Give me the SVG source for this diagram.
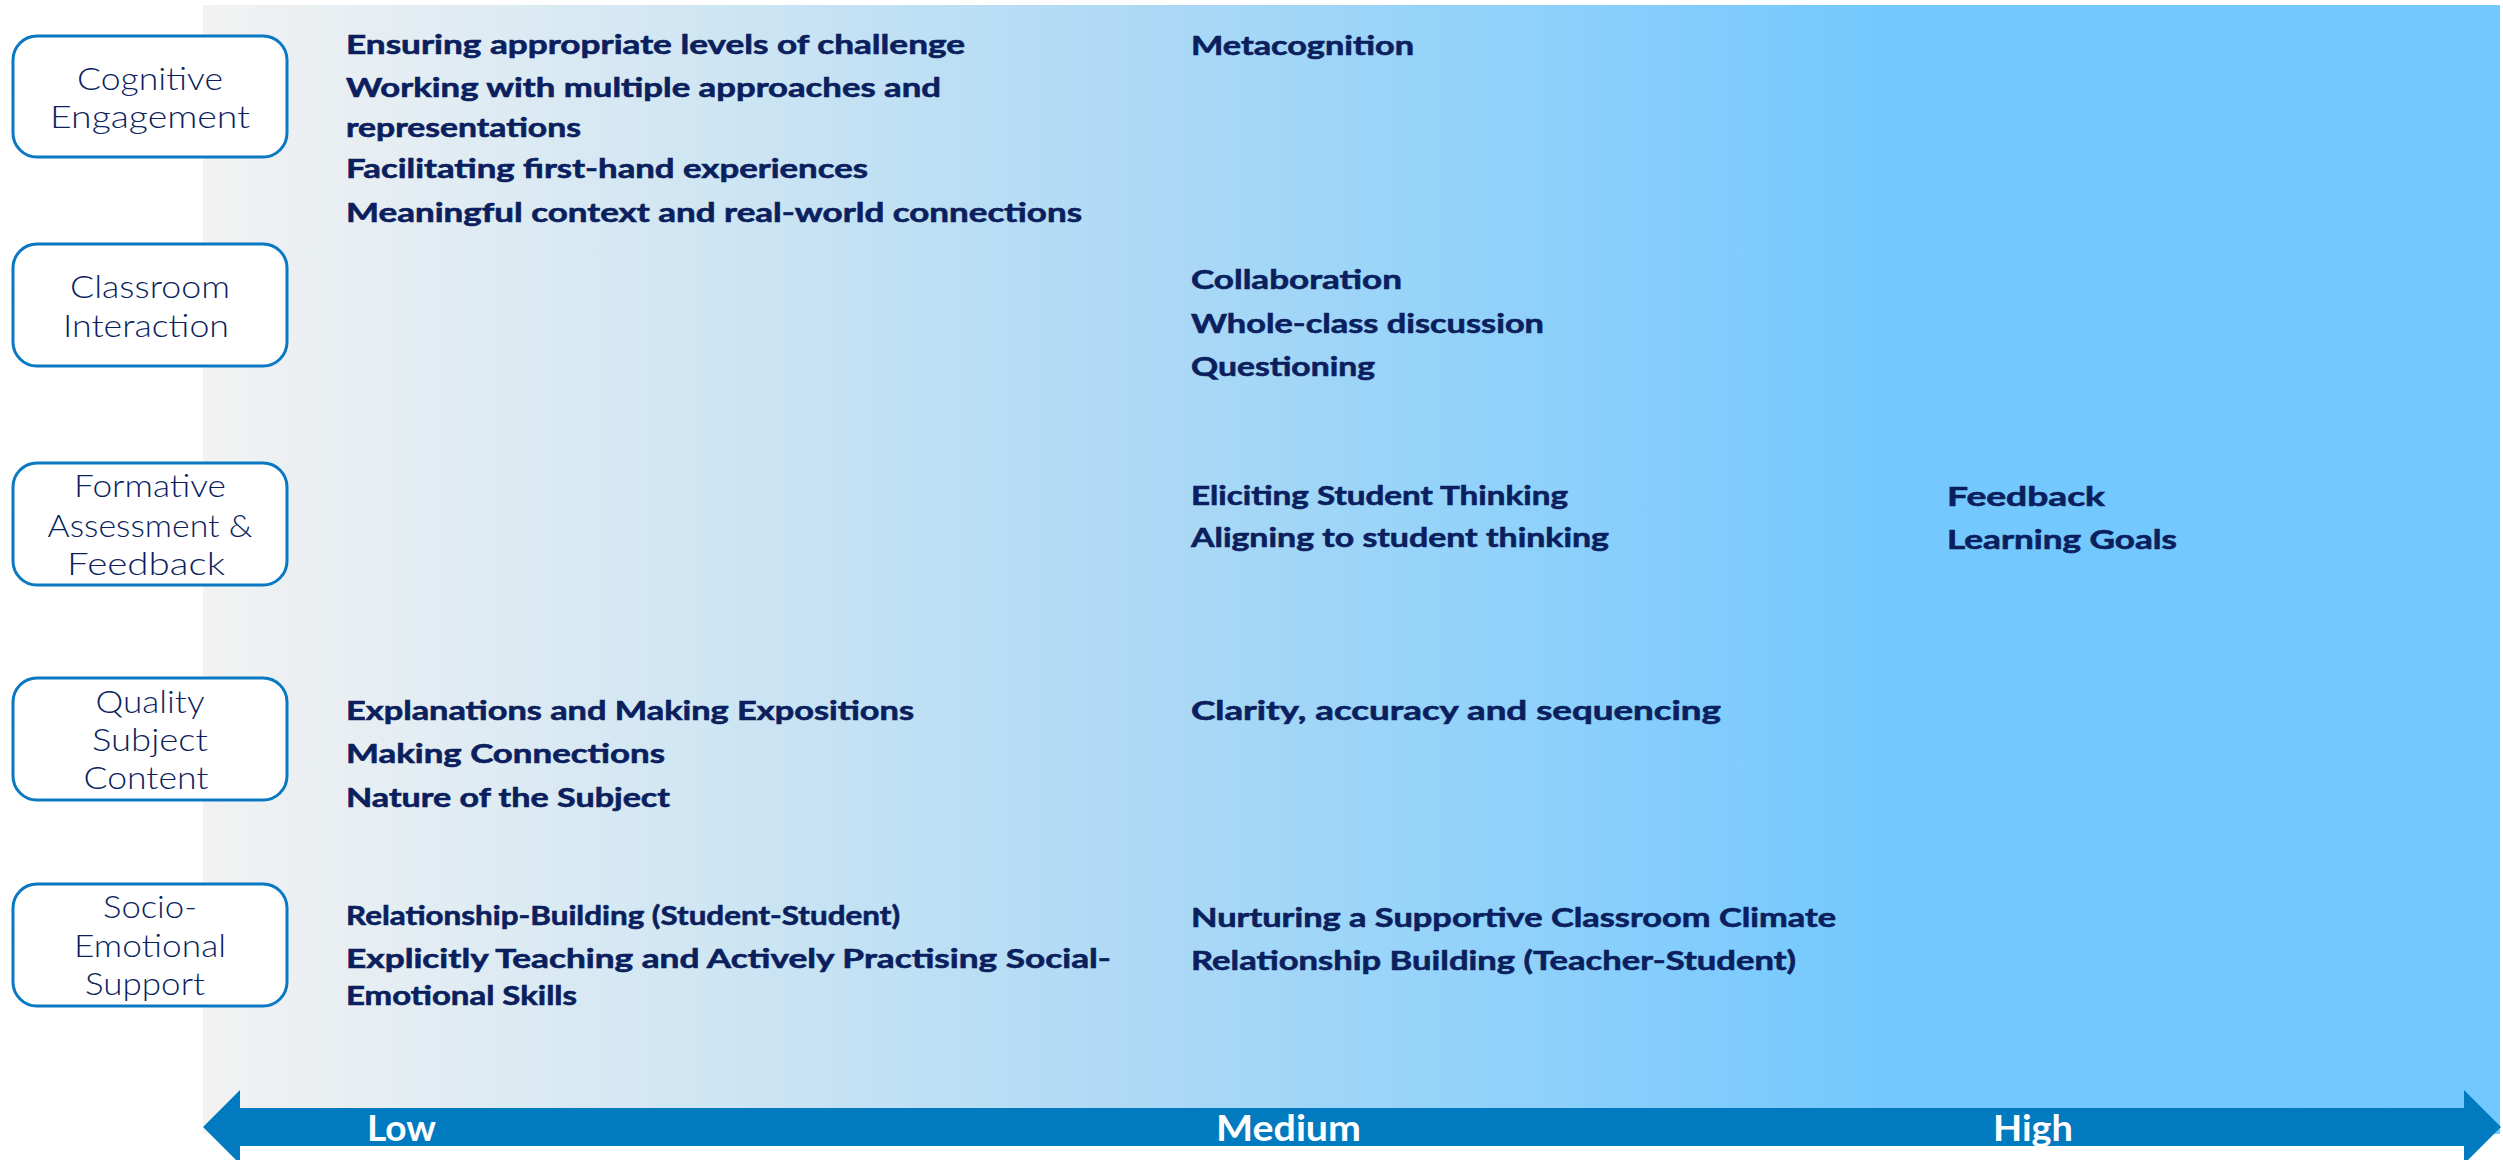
<svg xmlns="http://www.w3.org/2000/svg" width="2503" height="1160" viewBox="0 0 2503 1160">
  <defs>
    <linearGradient id="bandFill" x1="203" y1="0" x2="2500" y2="0" gradientUnits="userSpaceOnUse">
      <stop offset="0" stop-color="#F2F2F2"/>
      <stop offset="0.216" stop-color="#D0E6F3"/>
      <stop offset="0.41" stop-color="#ADD9F5"/>
      <stop offset="0.56" stop-color="#92D2FA"/>
      <stop offset="0.73" stop-color="#74C8FE"/>
      <stop offset="1" stop-color="#72C8FF"/>
    </linearGradient>
    <style>
      .dim rect { fill: #FFFFFF; stroke: #0A79C2; stroke-width: 3; }
      .dim text { font-family: Lato, "Liberation Sans", sans-serif; font-size: 31px; font-weight: 300; fill: #0B1F5E; text-anchor: middle; }
      .item { font-family: Lato, "Liberation Sans", sans-serif; font-size: 26px; font-weight: bold; fill: #0B1F5E; stroke: #0B1F5E; stroke-width: 0.6; }
      .axis-label { font-family: Lato, "Liberation Sans", sans-serif; font-size: 37px; font-weight: bold; fill: #FFFFFF; }
    </style>
  </defs>

  <!-- background band: low to high -->
  <rect x="203" y="5" width="2297" height="1129" fill="url(#bandFill)"/>

  <!-- dimension boxes -->
  <g id="cognitive-engagement" class="dim">
    <rect x="13" y="36" width="274" height="121" rx="24"/>
    <text x="150" y="90" textLength="146" lengthAdjust="spacingAndGlyphs">Cognitive</text>
    <text x="150" y="128" textLength="200" lengthAdjust="spacingAndGlyphs">Engagement</text>
  </g>
  <g id="classroom-interaction" class="dim">
    <rect x="13" y="244" width="274" height="122" rx="24"/>
    <text x="150" y="298" textLength="160" lengthAdjust="spacingAndGlyphs">Classroom</text>
    <text x="146" y="337" textLength="166" lengthAdjust="spacingAndGlyphs">Interaction</text>
  </g>
  <g id="formative-assessment" class="dim">
    <rect x="13" y="463" width="274" height="122" rx="24"/>
    <text x="150" y="497" textLength="152" lengthAdjust="spacingAndGlyphs">Formative</text>
    <text x="150" y="537" textLength="205" lengthAdjust="spacingAndGlyphs">Assessment &amp;</text>
    <text x="146" y="575" textLength="158" lengthAdjust="spacingAndGlyphs">Feedback</text>
  </g>
  <g id="quality-subject-content" class="dim">
    <rect x="13" y="678" width="274" height="122" rx="24"/>
    <text x="150" y="713" textLength="109" lengthAdjust="spacingAndGlyphs">Quality</text>
    <text x="150" y="751" textLength="116" lengthAdjust="spacingAndGlyphs">Subject</text>
    <text x="146" y="789" textLength="125" lengthAdjust="spacingAndGlyphs">Content</text>
  </g>
  <g id="socio-emotional-support" class="dim">
    <rect x="13" y="884" width="274" height="122" rx="24"/>
    <text x="150" y="918" textLength="94" lengthAdjust="spacingAndGlyphs">Socio-</text>
    <text x="150" y="957" textLength="152" lengthAdjust="spacingAndGlyphs">Emotional</text>
    <text x="145" y="995" textLength="120" lengthAdjust="spacingAndGlyphs">Support</text>
  </g>

  <!-- low column -->
  <g id="low-items">
    <text class="item" x="346" y="54" textLength="619" lengthAdjust="spacingAndGlyphs">Ensuring appropriate levels of challenge</text>
    <text class="item" x="346" y="97" textLength="595" lengthAdjust="spacingAndGlyphs">Working with multiple approaches and</text>
    <text class="item" x="346" y="137" textLength="235" lengthAdjust="spacingAndGlyphs">representations</text>
    <text class="item" x="346" y="178" textLength="522" lengthAdjust="spacingAndGlyphs">Facilitating first-hand experiences</text>
    <text class="item" x="346" y="222" textLength="736" lengthAdjust="spacingAndGlyphs">Meaningful context and real-world connections</text>
    <text class="item" x="346" y="720" textLength="568" lengthAdjust="spacingAndGlyphs">Explanations and Making Expositions</text>
    <text class="item" x="346" y="763" textLength="319" lengthAdjust="spacingAndGlyphs">Making Connections</text>
    <text class="item" x="346" y="807" textLength="324" lengthAdjust="spacingAndGlyphs">Nature of the Subject</text>
    <text class="item" x="346" y="925" textLength="554" lengthAdjust="spacingAndGlyphs">Relationship-Building (Student-Student)</text>
    <text class="item" x="346" y="968" textLength="765" lengthAdjust="spacingAndGlyphs">Explicitly Teaching and Actively Practising Social-</text>
    <text class="item" x="346" y="1005" textLength="231" lengthAdjust="spacingAndGlyphs">Emotional Skills</text>
  </g>

  <!-- medium column -->
  <g id="medium-items">
    <text class="item" x="1191" y="55" textLength="223" lengthAdjust="spacingAndGlyphs">Metacognition</text>
    <text class="item" x="1191" y="289" textLength="211" lengthAdjust="spacingAndGlyphs">Collaboration</text>
    <text class="item" x="1191" y="333" textLength="353" lengthAdjust="spacingAndGlyphs">Whole-class discussion</text>
    <text class="item" x="1191" y="376" textLength="184" lengthAdjust="spacingAndGlyphs">Questioning</text>
    <text class="item" x="1191" y="505" textLength="377" lengthAdjust="spacingAndGlyphs">Eliciting Student Thinking</text>
    <text class="item" x="1191" y="547" textLength="418" lengthAdjust="spacingAndGlyphs">Aligning to student thinking</text>
    <text class="item" x="1191" y="720" textLength="530" lengthAdjust="spacingAndGlyphs">Clarity, accuracy and sequencing</text>
    <text class="item" x="1191" y="927" textLength="645" lengthAdjust="spacingAndGlyphs">Nurturing a Supportive Classroom Climate</text>
    <text class="item" x="1191" y="970" textLength="605" lengthAdjust="spacingAndGlyphs">Relationship Building (Teacher-Student)</text>
  </g>

  <!-- high column -->
  <g id="high-items">
    <text class="item" x="1947" y="506" textLength="158" lengthAdjust="spacingAndGlyphs">Feedback</text>
    <text class="item" x="1947" y="549" textLength="230" lengthAdjust="spacingAndGlyphs">Learning Goals</text>
  </g>

  <!-- double-headed scale arrow -->
  <g id="connectors">
    <path d="M203,1127 L240,1090 L240,1108 L2464,1108 L2464,1090 L2501,1127 L2464,1164 L2464,1146 L240,1146 L240,1164 Z" fill="#027AC0"/>
  </g>
  <g id="scale-labels">
    <text class="axis-label" x="367" y="1141" textLength="69" lengthAdjust="spacingAndGlyphs">Low</text>
    <text class="axis-label" x="1216" y="1141" textLength="145" lengthAdjust="spacingAndGlyphs">Medium</text>
    <text class="axis-label" x="1993" y="1141" textLength="80" lengthAdjust="spacingAndGlyphs">High</text>
  </g>
</svg>
